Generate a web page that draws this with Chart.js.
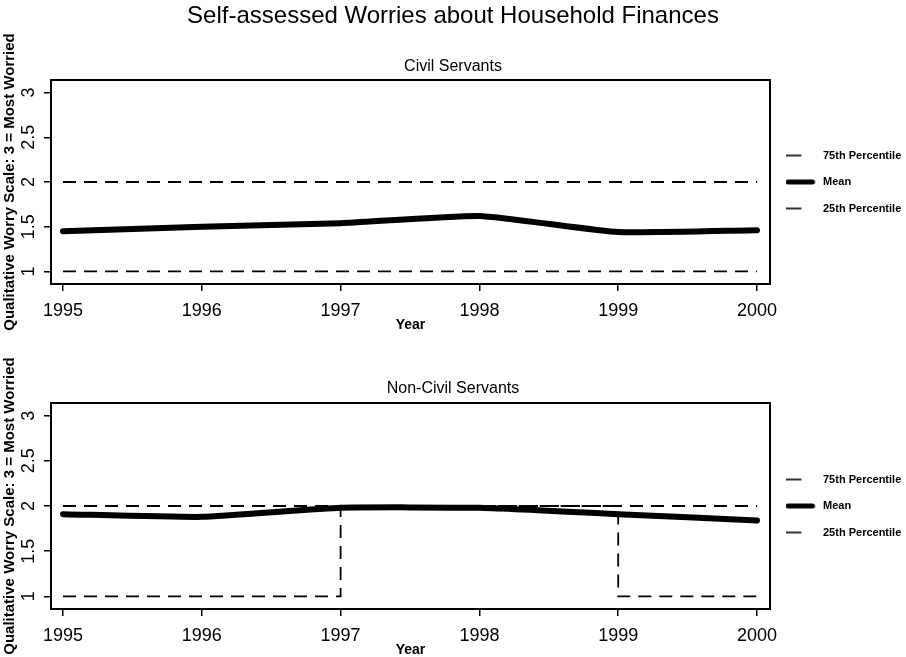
<!DOCTYPE html>
<html>
<head>
<meta charset="utf-8">
<title>Self-assessed Worries about Household Finances</title>
<script src="https://cdn.jsdelivr.net/npm/chart.js@4.4.1/dist/chart.umd.min.js"></script>
<style>
  body { margin: 0; background: #fff; }
  canvas { display: block; }
</style>
</head>
<body>
<canvas id="civil" width="906" height="332"></canvas>
<canvas id="nonCivil" width="906" height="325"></canvas>
<script>
// Survey years and the worry scale ticks
const years = [1995, 1996, 1997, 1998, 1999, 2000];
const yTicks = [1, 1.5, 2, 2.5, 3];
const seriesNames = ['75th Percentile', 'Mean', '25th Percentile'];

// Civil servants
const civilP75 = [2, 2, 2, 2, 2, 2];
const civilMean = [1.45, 1.50, 1.54, 1.62, 1.44, 1.46];
const civilP25 = [1, 1, 1, 1, 1, 1];

// Non-civil servants
const nonCivilP75 = [2, 2, 2, 2, 2, 2];
const nonCivilMean = [1.91, 1.88, 1.98, 1.98, 1.91, 1.84];
const nonCivilP25 = [1, 1, 2, 2, 1, 1];

const FONT = '"Liberation Sans", Arial, Helvetica, sans-serif';
const LEGEND_W = 136;

Chart.defaults.font.family = FONT;
Chart.defaults.color = '#000';

// little legend keys: a short thin stroke or a fat rounded one
function swatch(len, width) {
  const c = document.createElement('canvas');
  c.width = 32; c.height = 10;
  const g = c.getContext('2d');
  g.strokeStyle = '#000';
  g.lineWidth = width;
  g.lineCap = width > 2 ? 'round' : 'butt';
  g.beginPath();
  g.moveTo(width > 2 ? width / 2 : 0, 5);
  g.lineTo(len, 5);
  g.stroke();
  return c;
}
const thinKey = swatch(16, 1.6);
const fatKey = swatch(27, 5);

// box around the plot + fixed legend column width
const framePlugin = {
  id: 'frame',
  beforeLayout(chart) {
    const lg = chart.legend;
    if (lg && !lg._fixedWidth) {
      const fit = lg.fit;
      lg.fit = function () { fit.call(this); this.width = LEGEND_W; };
      lg._fixedWidth = true;
    }
  },
  afterDraw(chart) {
    const a = chart.chartArea, ctx = chart.ctx;
    ctx.save();
    ctx.strokeStyle = '#000';
    ctx.lineWidth = 2;
    ctx.strokeRect(a.left, a.top, a.right - a.left, a.bottom - a.top);
    ctx.restore();
  }
};

const pts = vals => years.map((x, i) => ({ x: x, y: vals[i] }));

function dashed(label, vals) {
  return {
    label: label, data: pts(vals),
    borderColor: '#000', borderWidth: 1.8, borderDash: [13, 8],
    stepped: true, pointRadius: 0, fill: false, pointStyle: thinKey
  };
}

function makeChart(id, titles, p75, mean, p25, o) {
  new Chart(document.getElementById(id), {
    type: 'line',
    data: {
      datasets: [
        dashed(seriesNames[0], p75),
        {
          label: seriesNames[1], data: pts(mean),
          borderColor: '#000', borderWidth: 6, tension: 0.15,
          borderCapStyle: 'round', borderJoinStyle: 'round',
          pointRadius: 0, fill: false, pointStyle: fatKey
        },
        dashed(seriesNames[2], p25)
      ]
    },
    options: {
      responsive: false,
      animation: false,
      devicePixelRatio: 1,
      events: [],
      layout: { padding: 0 },
      plugins: {
        title: titles.main ? {
          display: true, text: titles.main,
          font: { size: 24, weight: 'normal' },
          padding: { top: 2, bottom: 26.1 }
        } : { display: false },
        subtitle: {
          display: true, text: titles.sub,
          font: { size: 16, weight: 'normal' },
          padding: o.subPad
        },
        legend: {
          position: 'right',
          fullSize: false,
          labels: {
            usePointStyle: true, pointStyleWidth: 32,
            padding: 15.5, color: '#000',
            font: { size: 11, weight: 'bold' }
          }
        },
        tooltip: { enabled: false }
      },
      scales: {
        x: {
          type: 'linear', min: 1994.9135, max: 2000.0937,
          afterBuildTicks: s => { s.ticks = years.map(v => ({ value: v })); },
          afterFit: s => { s.height = 48; },
          border: { display: false },
          grid: { drawOnChartArea: false, drawTicks: true, tickLength: 7, color: '#000', lineWidth: 1.5 },
          ticks: { padding: 9, font: { size: 18 }, maxRotation: 0, callback: v => String(v) },
          title: { display: true, text: 'Year', font: { size: 14, weight: 'bold' }, padding: { top: 0, bottom: -2 } }
        },
        y: {
          min: 0.86, max: 3.14,
          afterBuildTicks: s => { s.ticks = yTicks.map(v => ({ value: v })); },
          afterFit: s => { s.width = 51; },
          border: { display: false },
          grid: { drawOnChartArea: false, drawTicks: true, tickLength: 7, color: '#000', lineWidth: 1.5 },
          ticks: { padding: 2, font: { size: 18 }, minRotation: 90, maxRotation: 90, crossAlign: 'center', callback: v => String(v) },
          title: { display: true, text: 'Qualitative Worry Scale: 3 = Most Worried', font: { size: 15, weight: 'bold' }, padding: { top: 1, bottom: 0 } }
        }
      }
    },
    plugins: [framePlugin]
  });
}

makeChart('civil', { main: 'Self-assessed Worries about Household Finances', sub: 'Civil Servants' },
  civilP75, civilMean, civilP25, { subPad: { top: 0, bottom: 3.9 } });
makeChart('nonCivil', { sub: 'Non-Civil Servants' },
  nonCivilP75, nonCivilMean, nonCivilP25, { subPad: { top: 47.4, bottom: 4.4 } });
</script>
</body>
</html>
